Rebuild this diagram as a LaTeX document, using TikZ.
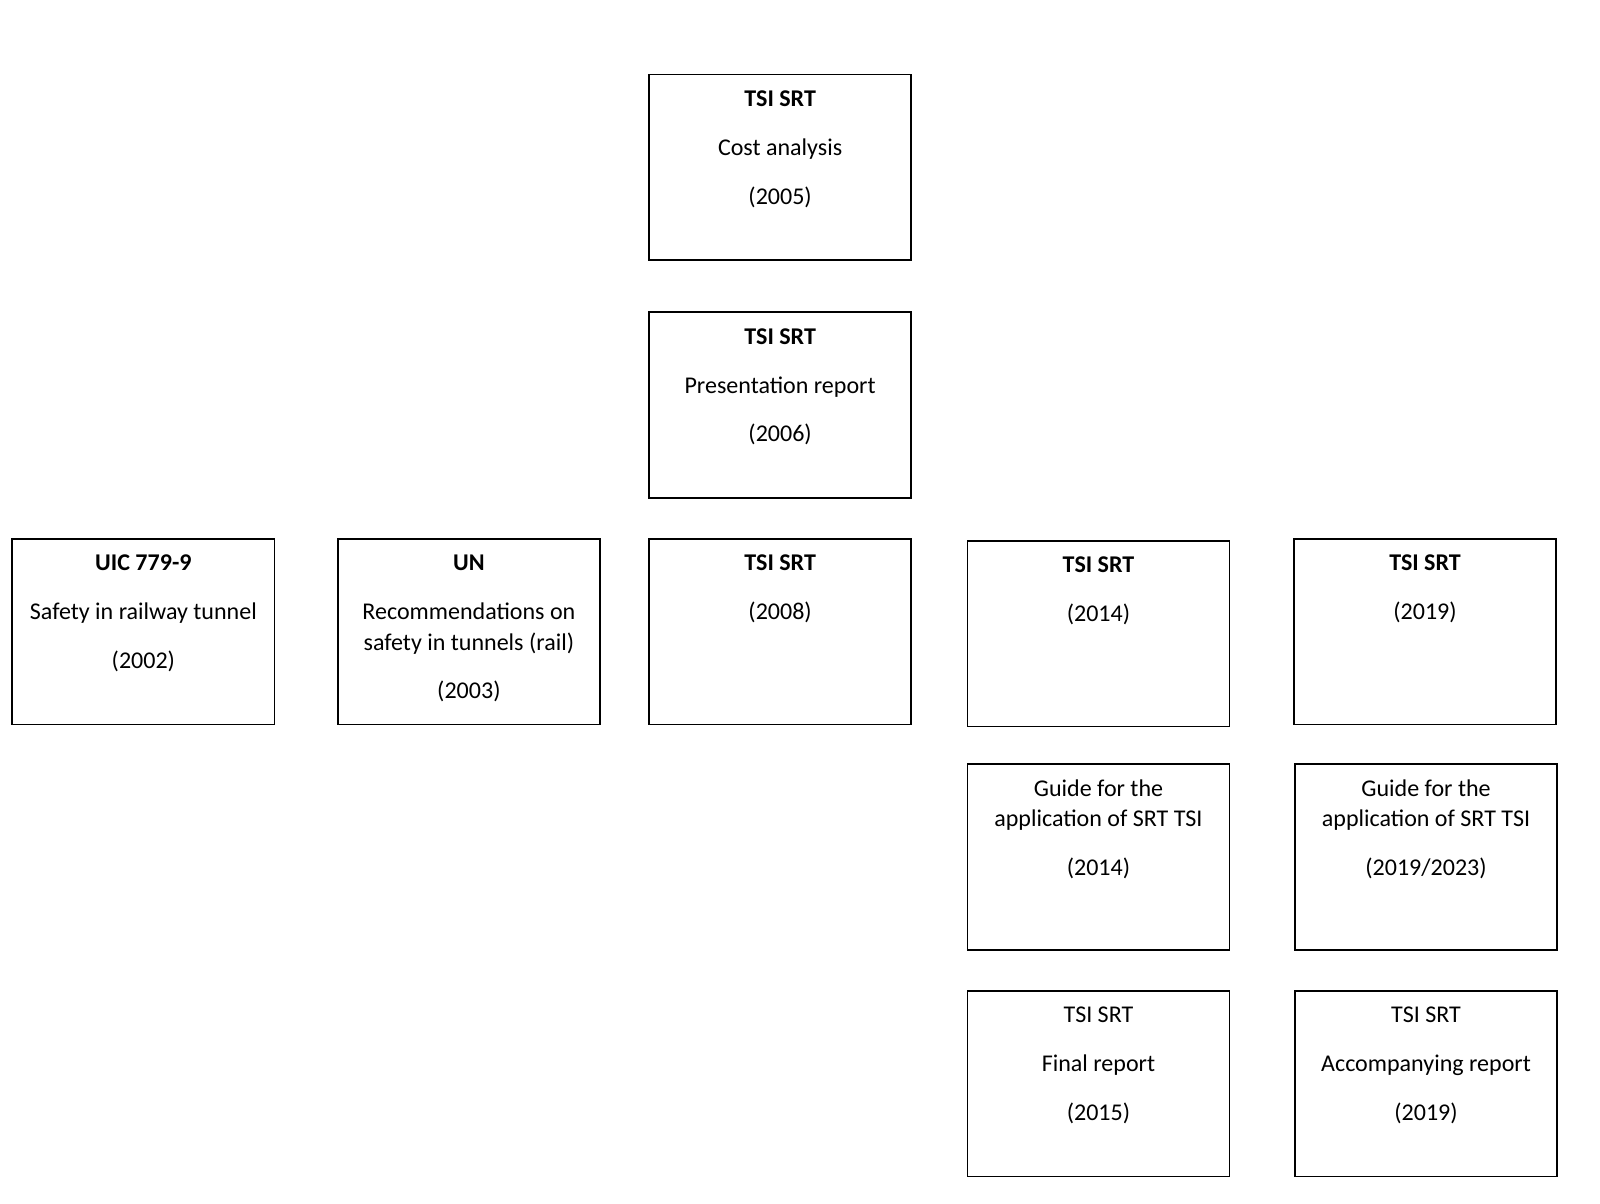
\documentclass[tikz,border=0pt]{standalone}
\usepackage{fontspec}
\setmainfont{Carlito}
\usetikzlibrary{positioning}
\newcommand{\boxtxt}[1]{\parbox[t][3.64cm][t]{5.14cm}{\centering\fontsize{13.4}{17}\selectfont\setlength{\parskip}{10.2pt}\rule{0pt}{17.9pt}#1}}
\tikzset{
  docbox/.style={draw=black,line width=0.9pt,inner sep=0pt,outer sep=0pt}
}

\begin{document}
\begin{tikzpicture}[node distance=0.8cm]
    \useasboundingbox (0,0) rectangle (31.36,-23.58);
    \node [docbox,anchor=north west] (cost) at (12.72,-1.46) {\boxtxt{\textbf{TSI SRT}\par Cost analysis\par (2005)}};
    \node [docbox,below=1.02cm of cost] (pres) {\boxtxt{\textbf{TSI SRT}\par Presentation report\par (2006)}};
    \node [docbox,below=0.8cm of pres] (t08) {\boxtxt{\textbf{TSI SRT}\par (2008)}};
    \node [docbox,left=0.96cm of t08] (un) {\boxtxt{\textbf{UN}\par Recommendations on\\ safety in tunnels (rail)\par (2003)}};
    \node [docbox,left=1.24cm of un] (uic) {\boxtxt{\textbf{UIC 779-9}\par Safety in railway tunnel\par (2002)}};
    \node [docbox,right=1.1cm of t08,yshift=-0.04cm] (t14) {\boxtxt{\textbf{TSI SRT}\par (2014)}};
    \node [docbox,right=1.26cm of t14,yshift=0.04cm] (t19) {\boxtxt{\textbf{TSI SRT}\par (2019)}};
    \node [docbox,below=0.74cm of t14] (g14) {\boxtxt{Guide for the\\ application of SRT TSI\par (2014)}};
    \node [docbox,below=0.78cm of t19,xshift=0.02cm] (g19) {\boxtxt{Guide for the\\ application of SRT TSI\par (2019/2023)}};
    \node [docbox,below=0.8cm of g14] (fin) {\boxtxt{TSI SRT\par Final report\par (2015)}};
    \node [docbox,below=0.8cm of g19] (acc) {\boxtxt{TSI SRT\par Accompanying report\par (2019)}};
\end{tikzpicture}
\end{document}
